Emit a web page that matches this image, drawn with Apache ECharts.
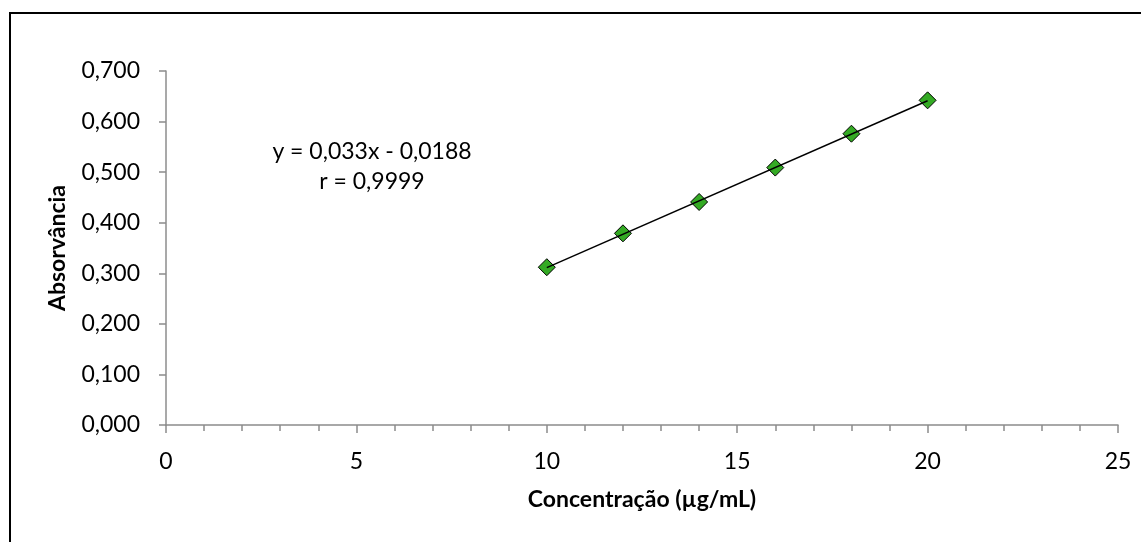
<!DOCTYPE html>
<html>
<head>
<meta charset="utf-8">
<script src="https://cdn.jsdelivr.net/npm/echarts@6/dist/echarts.min.js"></script>
<style>
html,body{margin:0;padding:0;background:#fff;overflow:hidden;}
#frame{position:absolute;left:9px;top:12px;width:1200px;height:600px;border:2px solid #000;box-sizing:border-box;}
#chart{position:absolute;left:0;top:0;width:1141px;height:542px;}
</style>
</head>
<body>
<div id="frame"></div>
<div id="chart"></div>
<script>
const concentrations = [10, 12, 14, 16, 18, 20];
const absorbances = [0.312, 0.379, 0.441, 0.509, 0.576, 0.642];
const slope = 0.033;
const intercept = -0.0188;
const equationText = 'y = 0,033x - 0,0188';
const rText = 'r = 0,9999';
const xTitle = 'Concentração (µg/mL)';
const yTitle = 'Absorvância';

const font = 'Lato, "Open Sans", sans-serif';
const xs = [concentrations[0], concentrations[concentrations.length - 1]];
const trend = xs.map(x => [x, slope * x + intercept]);

const chart = echarts.init(document.getElementById('chart'), null, {renderer: 'canvas'});
chart.setOption({
  animation: false,
  backgroundColor: 'transparent',
  grid: {left: 166, right: 23, top: 71, bottom: 117},
  xAxis: {
    type: 'value', min: 0, max: 25, interval: 5,
    name: xTitle, nameLocation: 'middle', nameGap: 63,
    nameTextStyle: {fontFamily: font, fontWeight: 'bold', fontSize: 23, color: '#000'},
    axisLine: {show: true, lineStyle: {color: '#8c8c8c', width: 1.5}},
    axisTick: {show: true, length: 8, lineStyle: {color: '#8c8c8c', width: 1.5}},
    minorTick: {show: true, splitNumber: 5, length: 6, lineStyle: {color: '#8c8c8c', width: 1.5}},
    axisLabel: {fontFamily: font, fontSize: 23, color: '#000', margin: 25},
    splitLine: {show: false}
  },
  yAxis: {
    type: 'value', min: 0, max: 0.7, interval: 0.1,
    name: yTitle, nameLocation: 'middle', nameGap: 97, nameRotate: 90,
    nameTextStyle: {fontFamily: font, fontWeight: 'bold', fontSize: 23, color: '#000'},
    axisLine: {show: true, lineStyle: {color: '#8c8c8c', width: 1.5}},
    axisTick: {show: true, length: 7, lineStyle: {color: '#8c8c8c', width: 1.5}},
    axisLabel: {fontFamily: font, fontSize: 23, color: '#000', margin: 26,
      formatter: v => v.toFixed(3).replace('.', ',')},
    splitLine: {show: false}
  },
  graphic: [{
    type: 'text', x: 372, y: 137, z: 10,
    style: {text: equationText + '\n' + rText, font: '23px ' + font, fill: '#000',
      textAlign: 'center', textVerticalAlign: 'top', align: 'center', verticalAlign: 'top', lineHeight: 30}
  }],
  series: [{
    type: 'scatter', z: 2,
    data: concentrations.map((c, i) => [c, absorbances[i]]),
    symbol: 'diamond', symbolSize: 17,
    itemStyle: {color: '#34aa24', opacity: 1, borderColor: '#000', borderWidth: 1}
  }, {
    type: 'line', z: 3, data: trend, symbol: 'none', silent: true,
    lineStyle: {color: '#000', width: 1.5}
  }]
});
</script>
</body>
</html>
